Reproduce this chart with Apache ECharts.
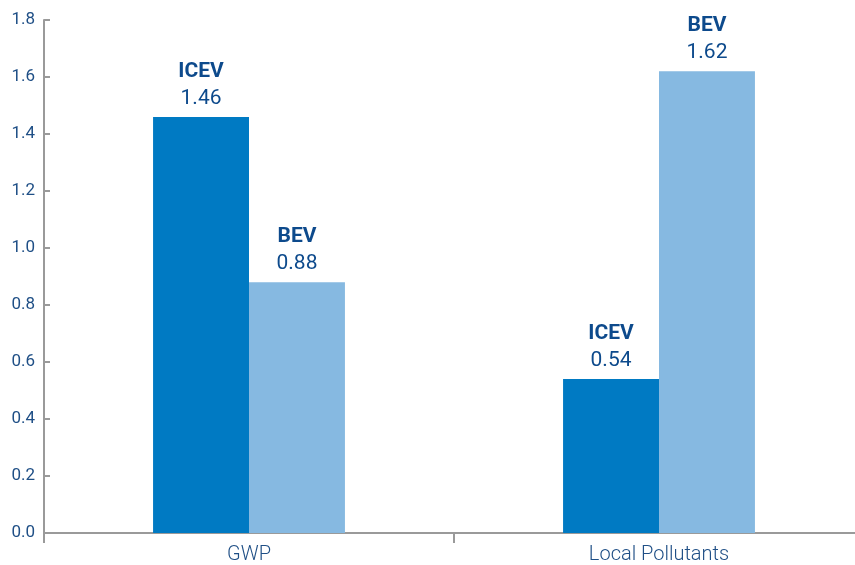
<!DOCTYPE html>
<html>
<head>
<meta charset="utf-8">
<script src="https://cdn.jsdelivr.net/npm/echarts@6/dist/echarts.min.js"></script>
<style>
  html, body { margin: 0; padding: 0; background: #fff; }
  #chart { width: 855px; height: 565px; }
</style>
</head>
<body>
<div id="chart"></div>
<script>
// categories and series
var categories = ['GWP', 'Local Pollutants'];
var icevValues = [1.46, 0.54];
var bevValues = [0.88, 1.62];
var seriesNames = ['ICEV', 'BEV'];

var labelColor = '#0d4a8c';
var axisGrey = '#9a9a9a';

function barLabel(name) {
  return {
    show: true,
    position: 'top',
    distance: 5,
    formatter: function (p) {
      return '{b|' + name + '}\n{v|' + p.value.toFixed(2) + '}';
    },
    rich: {
      b: { fontFamily: 'Roboto', fontWeight: 'bold', fontSize: 21, color: labelColor, lineHeight: 27 },
      v: { fontFamily: 'Roboto', fontSize: 21, color: labelColor, lineHeight: 27 }
    }
  };
}

var chart = echarts.init(document.getElementById('chart'));
var option = {
  animation: false,
  grid: {
    left: 44, width: 820, top: 20, bottom: 32,
    containLabel: false, outerBoundsMode: 'none'
  },
  xAxis: {
    type: 'category',
    data: categories,
    axisLine: { lineStyle: { color: axisGrey, width: 2 } },
    axisTick: { show: true, length: 10, lineStyle: { color: axisGrey, width: 2 } },
    axisLabel: { fontFamily: 'Roboto', fontWeight: 300, fontSize: 20, color: '#1f4f86', margin: 12 }
  },
  yAxis: {
    type: 'value',
    min: 0,
    max: 1.8,
    interval: 0.2,
    splitLine: { show: false },
    axisLine: { show: true, lineStyle: { color: axisGrey, width: 2 } },
    axisTick: { show: true, inside: true, length: 6, lineStyle: { color: axisGrey, width: 2 } },
    axisLabel: {
      fontFamily: 'Roboto', fontSize: 17, color: '#1f4f86', margin: 9,
      formatter: function (v) { return v.toFixed(1); }
    }
  },
  series: [
    {
      name: seriesNames[0],
      type: 'bar',
      data: icevValues,
      barWidth: '23.4%',
      barGap: '0%',
      itemStyle: { color: '#007ac3' },
      label: barLabel(seriesNames[0])
    },
    {
      name: seriesNames[1],
      type: 'bar',
      data: bevValues,
      barWidth: '23.4%',
      barGap: '0%',
      itemStyle: { color: '#86b9e1' },
      label: barLabel(seriesNames[1])
    }
  ]
};
chart.setOption(option);
</script>
</body>
</html>
